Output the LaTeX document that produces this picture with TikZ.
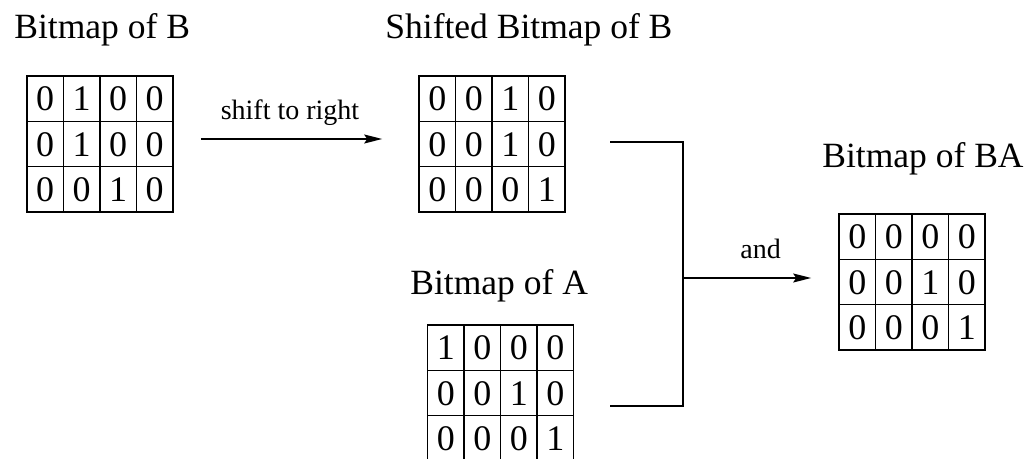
\documentclass[tikz,border=0pt]{standalone}
\usepackage{fontspec}
\setmainfont{Liberation Serif}
\usetikzlibrary{matrix,arrows.meta}

\begin{document}
\begin{tikzpicture}[x=0.5pt, y=-0.5pt,
    bitmap/.style ={matrix of nodes, inner sep=0pt, outer sep=0pt,
      column sep=-0.8pt, row sep=-0.8pt,
      nodes={draw, line width=0.8pt, minimum width=18.25pt, minimum height=22.65pt,
        inner sep=0pt, text height=12.2pt, text depth=0pt,
        font=\fontsize{18}{19}\selectfont}},
    title/.style ={anchor=base west, inner sep=0pt, font=\fontsize{17.75}{20}\selectfont},
    wire/.style ={line width=0.75pt},
    opname/.style ={inner sep=0pt, text depth=3pt, above=6.5pt, font=\fontsize{14}{16}\selectfont}]
   \useasboundingbox (0,0) rectangle (1030,459);

   % the four bitmaps
   \matrix[bitmap] (gB)  at (100,144)   {0 & 1 & 0 & 0\\ 0 & 1 & 0 & 0\\ 0 & 0 & 1 & 0\\};
   \matrix[bitmap] (gS)  at (492,144)   {0 & 0 & 1 & 0\\ 0 & 0 & 1 & 0\\ 0 & 0 & 0 & 1\\};
   \matrix[bitmap] (gA)  at (500.5,393) {1 & 0 & 0 & 0\\ 0 & 0 & 1 & 0\\ 0 & 0 & 0 & 1\\};
   \matrix[bitmap] (gBA) at (912,282)   {0 & 0 & 0 & 0\\ 0 & 0 & 1 & 0\\ 0 & 0 & 0 & 1\\};

   \node[title] (tB)  at (14,39)   {Bitmap of B};
   \node[title] (tS)  at (385,39)  {Shifted Bitmap of B};
   \node[title] (tA)  at (410,295) {Bitmap of A};
   \node[title] (tBA) at (822,168) {Bitmap of BA};

   % shift step
   \draw[wire, -{Stealth[length=9pt, width=4.5pt, inset=1.5pt]}, shorten <=13.5pt, shorten >=18pt]
      ([yshift=2.5pt]gB.east) -- ([yshift=2.5pt]gS.west)
      node[opname, midway, xshift=-3pt] {shift to right};

   % and step
   \coordinate (sOut) at (610,142);
   \coordinate (aOut) at (610,406);
   \coordinate (j)    at (683,278);
   \draw[wire] (sOut) -| (j);
   \draw[wire] (aOut) -| (j);
   \draw[wire, -{Stealth[length=9pt, width=4.5pt, inset=1.5pt]}, shorten >=13.5pt]
      (j) -- (j -| gBA.west)
      node[opname, midway] {and};

 \end{tikzpicture}
\end{document}
